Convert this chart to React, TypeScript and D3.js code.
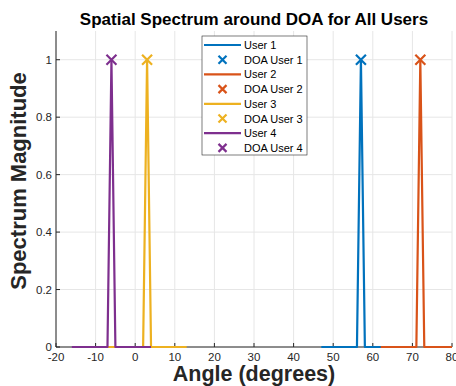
import React from "react";
import { scaleLinear, line } from "d3";

// chart data
const users = ["User 1", "User 2", "User 3", "User 4"];
const doa = [57, 72, 3, -6];
const offsets = [-10, -9, -8, -7, -6, -5, -4, -3, -2, -1, 0, 1, 2, 3, 4, 5, 6, 7, 8, 9, 10];
const spectrum = [0, 0, 0, 0, 0, 0, 0, 0, 0, 0, 1, 0, 0, 0, 0, 0, 0, 0, 0, 0, 0];
const xTicks = [-20, -10, 0, 10, 20, 30, 40, 50, 60, 70, 80];
const yTicks = [0, 0.2, 0.4, 0.6, 0.8, 1];
const colors = ["#0072BD", "#D95319", "#EDB120", "#7E2F8E"];

const W = 456;
const H = 386;
const m = { left: 56, right: 4, top: 31, bottom: 39 };
const font = "'Liberation Sans', Arial, Helvetica, sans-serif";

export default function App() {
  const x = scaleLinear().domain([-20, 80]).range([m.left, W - m.right]);
  const y = scaleLinear().domain([0, 1.1]).range([H - m.bottom, m.top]);
  const path = line<[number, number]>()
    .x((d) => x(d[0]))
    .y((d) => y(d[1]));

  const x0 = m.left;
  const x1 = W - m.right;
  const y0 = H - m.bottom;
  const y1 = m.top;

  const cross = (cx: number, cy: number, s: number, c: string, k: string) => (
    <path
      key={k}
      d={`M${cx - s},${cy - s}L${cx + s},${cy + s}M${cx - s},${cy + s}L${cx + s},${cy - s}`}
      stroke={c}
      strokeWidth={2.2}
      fill="none"
    />
  );

  const lx = 202;
  const ly = 36;
  const rowH = 14.7;

  return (
    <svg
      width={W}
      height={H}
      style={{ position: "absolute", left: 0, top: 0, background: "#fff" }}
      fontFamily={font}
    >
      <defs>
        <clipPath id="plot">
          <rect x={x0} y={y1 - 3} width={x1 - x0} height={y0 - y1 + 6} />
        </clipPath>
      </defs>
      {/* grid */}
      {xTicks.map((t) => (
        <line key={"gx" + t} x1={x(t)} x2={x(t)} y1={y1} y2={y0} stroke="#e6e6e6" strokeWidth={1} />
      ))}
      {yTicks.map((t) => (
        <line key={"gy" + t} x1={x0} x2={x1} y1={y(t)} y2={y(t)} stroke="#e6e6e6" strokeWidth={1} />
      ))}

      {/* axes */}
      <line x1={x0} x2={x0} y1={y1} y2={y0} stroke="#262626" strokeWidth={1} />
      <line x1={x0} x2={x1} y1={y0} y2={y0} stroke="#262626" strokeWidth={1} />
      {xTicks.map((t) => (
        <g key={"xt" + t}>
          <line x1={x(t)} x2={x(t)} y1={y0} y2={y0 - 4} stroke="#262626" />
          <text x={x(t)} y={y0 + 14} textAnchor="middle" fontSize={11.5} fill="#262626">
            {t}
          </text>
        </g>
      ))}
      {yTicks.map((t) => (
        <g key={"yt" + t}>
          <line x1={x0} x2={x0 + 4} y1={y(t)} y2={y(t)} stroke="#262626" />
          <text x={x0 - 4} y={y(t) + 4} textAnchor="end" fontSize={11.5} fill="#262626">
            {t}
          </text>
        </g>
      ))}

      {/* series */}
      <g clipPath="url(#plot)">
        {doa.map((d, i) => (
          <path
            key={"s" + i}
            d={path(offsets.map((o, j) => [d + o, spectrum[j]] as [number, number])) || ""}
            stroke={colors[i]}
            strokeWidth={2.2}
            fill="none"
            strokeLinejoin="round"
          />
        ))}
      </g>
      {doa.map((d, i) => cross(x(d), y(1), 5, colors[i], "m" + i))}

      {/* labels */}
      <text x={(x0 + x1) / 2} y={25} textAnchor="middle" fontSize={17} fontWeight="bold" fill="#000">
        Spatial Spectrum around DOA for All Users
      </text>
      <text x={(x0 + x1) / 2} y={381} textAnchor="middle" fontSize={21.5} fontWeight="bold" fill="#262626">
        Angle (degrees)
      </text>
      <text
        transform={`translate(26,${(y0 + y1) / 2 - 8}) rotate(-90)`}
        textAnchor="middle"
        fontSize={22}
        fontWeight="bold"
        fill="#262626"
      >
        Spectrum Magnitude
      </text>

      {/* legend */}
      <rect x={lx} y={ly} width={105} height={119} fill="#fff" stroke="#262626" strokeWidth={0.6} />
      {users.map((u, i) => {
        const ry = ly + 9 + rowH * 2 * i;
        return (
          <g key={"lg" + i}>
            <line x1={lx + 2} x2={lx + 39} y1={ry} y2={ry} stroke={colors[i]} strokeWidth={2.2} />
            <text x={lx + 42} y={ry + 4} fontSize={11} fill="#000">
              {u}
            </text>
            {cross(lx + 20.5, ry + rowH, 4, colors[i], "lm" + i)}
            <text x={lx + 42} y={ry + rowH + 4} fontSize={11} fill="#000">
              {"DOA " + u}
            </text>
          </g>
        );
      })}
    </svg>
  );
}
